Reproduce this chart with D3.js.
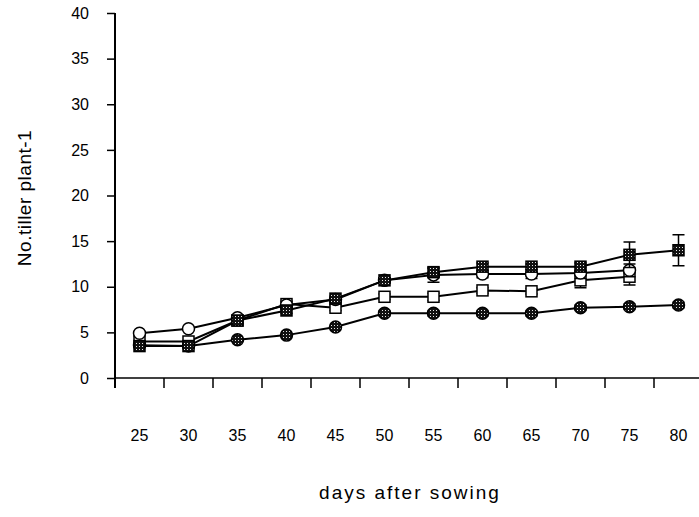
<!DOCTYPE html>
<html>
<head>
<meta charset="utf-8">
<script src="https://cdn.jsdelivr.net/npm/d3@7"></script>
<style>
  body { margin: 0; background: #fff; }
  svg { display: block; }
  text { font-family: "Liberation Sans", Arial, sans-serif; fill: #000; }
</style>
</head>
<body>
<div class="chart"></div>
<script>
const width = 699;
const height = 517;

// days after sowing (categories)
const days = [25, 30, 35, 40, 45, 50, 55, 60, 65, 70, 75, 80];
const yTicks = [0, 5, 10, 15, 20, 25, 30, 35, 40];

// series values (null = no point)
const hatchedSquare = [3.5, 3.5, 6.3, 7.4, 8.7, 10.7, 11.6, 12.2, 12.2, 12.2, 13.5, 14.0];
const hatchedSquareErr = [0, 0, 0.3, 0.3, 0.3, 0.3, 0.4, 0.4, 0.3, 0.4, 1.4, 1.7];
const openCircle = [4.9, 5.4, 6.6, 8.0, 8.6, 10.7, 11.3, 11.4, 11.4, 11.5, 11.8, null];
const openCircleErr = [0, 0, 0, 0, 0, 0.3, 0.8, 0.4, 0.5, 0.6, 0.7, null];
const openSquare = [4.0, 4.0, 6.3, 8.1, 7.7, 8.9, 8.9, 9.6, 9.5, 10.7, 11.1, null];
const openSquareErr = [0, 0, 0, 0.3, 0.3, 0.3, 0.4, 0.3, 0.3, 0.8, 0.9, null];
const hatchedCircle = [3.6, 3.5, 4.2, 4.7, 5.6, 7.1, 7.1, 7.1, 7.1, 7.7, 7.8, 8.0];
const hatchedCircleErr = [0, 0, 0, 0, 0, 0.3, 0.3, 0.3, 0.3, 0.3, 0.3, 0.3];

const series = [
  { name: "hc", values: hatchedCircle, err: hatchedCircleErr, shape: "circle", fill: "url(#dots)" },
  { name: "os", values: openSquare, err: openSquareErr, shape: "square", fill: "#fff" },
  { name: "oc", values: openCircle, err: openCircleErr, shape: "circle", fill: "#fff" },
  { name: "hs", values: hatchedSquare, err: hatchedSquareErr, shape: "square", fill: "url(#dots)" }
];

const svg = d3.select(".chart")
  .append("svg")
  .attr("width", width)
  .attr("height", height);

// dotted fill for the dark markers
const pat = svg.append("defs").append("pattern")
  .attr("id", "dots")
  .attr("width", 3)
  .attr("height", 3)
  .attr("patternUnits", "userSpaceOnUse");
pat.append("rect").attr("width", 3).attr("height", 3).attr("fill", "#111");
pat.append("rect").attr("x", 1).attr("y", 1).attr("width", 1).attr("height", 1).attr("fill", "#e8e8e8");

const xScale = d3.scaleBand()
  .domain(days)
  .range([115, 703])
  .padding(0);

const yScale = d3.scaleLinear()
  .domain([0, 40])
  .range([378, 13]);

const cx = d => xScale(d) + xScale.bandwidth() / 2;

// y axis
const yAxis = d3.axisLeft(yScale)
  .tickValues(yTicks)
  .tickSize(8)
  .tickPadding(18);

const gy = svg.append("g")
  .attr("transform", "translate(115,0)")
  .call(yAxis);
gy.select(".domain").attr("d", "M0,13V388").attr("stroke", "#000").attr("stroke-width", 2);
gy.selectAll(".tick line").attr("stroke", "#000").attr("stroke-width", 1.5);
gy.selectAll(".tick text").style("font-size", "16px");

// x axis (labels sit in the middle of each category)
const xAxis = d3.axisBottom(xScale)
  .tickSize(0)
  .tickPadding(52);

const gx = svg.append("g")
  .attr("transform", "translate(0,378)")
  .call(xAxis);
gx.select(".domain").attr("d", "M115,0H699").attr("stroke", "#000").attr("stroke-width", 1.5);
gx.selectAll(".tick text").style("font-size", "16px");

gx.selectAll(".edge")
  .data(days.slice(1))
  .enter()
  .append("line")
  .attr("class", "edge")
  .attr("x1", d => xScale(d))
  .attr("x2", d => xScale(d))
  .attr("y1", 0)
  .attr("y2", 10)
  .attr("stroke", "#000")
  .attr("stroke-width", 1.5);

// lines, error bars and markers
const line = d3.line()
  .defined(d => d.v != null)
  .x(d => cx(d.day))
  .y(d => yScale(d.v));

series.forEach(s => {
  const pts = days.map((day, i) => ({ day: day, v: s.values[i], e: s.err[i] }));
  const g = svg.append("g");

  g.append("path")
    .datum(pts)
    .attr("fill", "none")
    .attr("stroke", "#000")
    .attr("stroke-width", 2)
    .attr("d", line);

  const withErr = pts.filter(d => d.v != null && d.e > 0);
  g.selectAll(".err")
    .data(withErr)
    .enter()
    .append("path")
    .attr("class", "err")
    .attr("fill", "none")
    .attr("stroke", "#000")
    .attr("stroke-width", 1.5)
    .attr("d", d => {
      const x = cx(d.day);
      const y1 = yScale(d.v + d.e);
      const y2 = yScale(d.v - d.e);
      return "M" + (x - 6) + "," + y1 + "H" + (x + 6) +
        "M" + x + "," + y1 + "V" + y2 +
        "M" + (x - 6) + "," + y2 + "H" + (x + 6);
    });

  const valid = pts.filter(d => d.v != null);
  if (s.shape === "square") {
    g.selectAll(".mk")
      .data(valid)
      .enter()
      .append("rect")
      .attr("class", "mk")
      .attr("x", d => cx(d.day) - 5.5)
      .attr("y", d => yScale(d.v) - 5.5)
      .attr("width", 11)
      .attr("height", 11)
      .attr("fill", s.fill)
      .attr("stroke", "#000")
      .attr("stroke-width", 1.5);
  } else {
    g.selectAll(".mk")
      .data(valid)
      .enter()
      .append("circle")
      .attr("class", "mk")
      .attr("cx", d => cx(d.day))
      .attr("cy", d => yScale(d.v))
      .attr("r", 6)
      .attr("fill", s.fill)
      .attr("stroke", "#000")
      .attr("stroke-width", 1.5);
  }
});

// axis titles
svg.append("text")
  .attr("transform", "translate(31,198) rotate(-90)")
  .attr("text-anchor", "middle")
  .style("font-size", "19px")
  .style("letter-spacing", "0.5px")
  .text("No.tiller plant-1");

svg.append("text")
  .attr("x", 410)
  .attr("y", 499)
  .attr("text-anchor", "middle")
  .style("font-size", "19px")
  .style("letter-spacing", "2px")
  .text("days after sowing");
</script>
</body>
</html>
